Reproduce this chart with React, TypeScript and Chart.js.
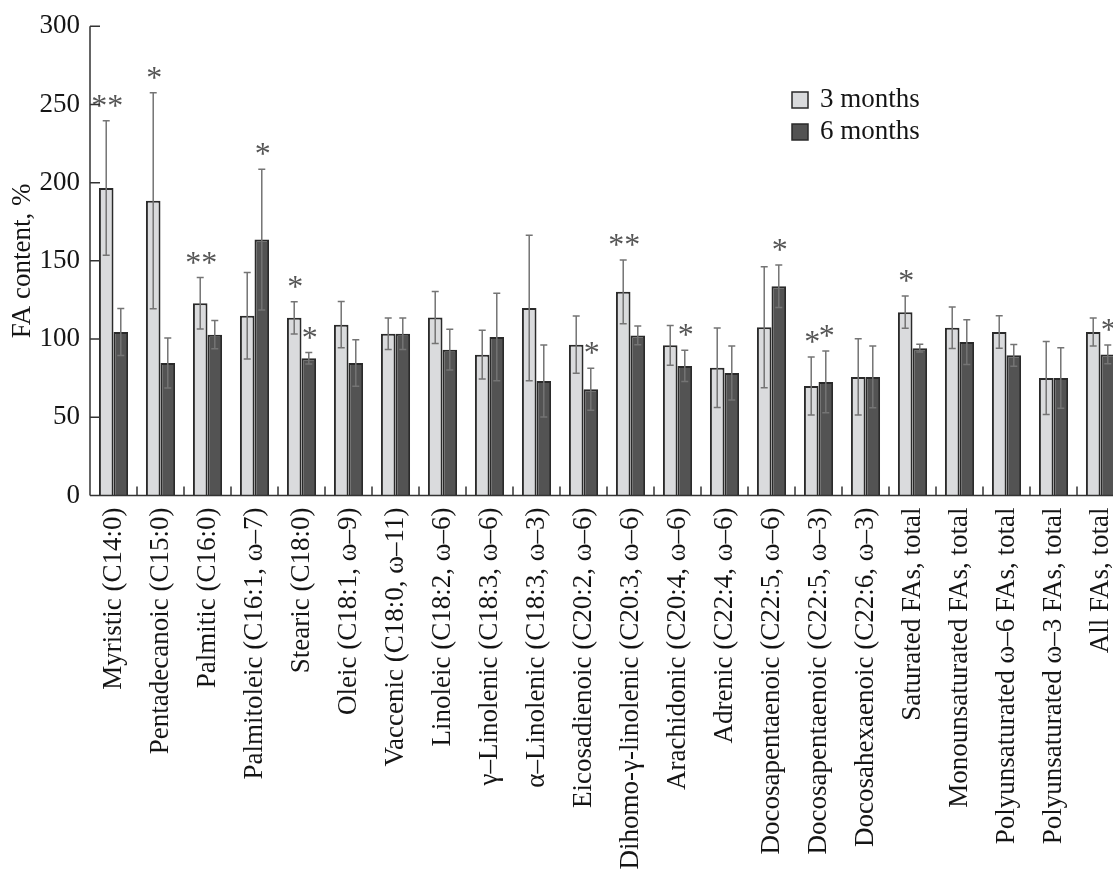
import React, { useEffect, useRef } from "react";
import { Chart, registerables } from "chart.js";

Chart.register(...registerables);

const categories: string[] = [
  "Myristic (C14:0)",
  "Pentadecanoic (C15:0)",
  "Palmitic (C16:0)",
  "Palmitoleic (C16:1, ω–7)",
  "Stearic (C18:0)",
  "Oleic (C18:1, ω–9)",
  "Vaccenic (C18:0, ω–11)",
  "Linoleic (C18:2, ω–6)",
  "γ–Linolenic (C18:3, ω–6)",
  "α–Linolenic (C18:3, ω–3)",
  "Eicosadienoic (C20:2, ω–6)",
  "Dihomo-γ-linolenic (C20:3, ω–6)",
  "Arachidonic (C20:4, ω–6)",
  "Adrenic (C22:4, ω–6)",
  "Docosapentaenoic (C22:5, ω–6)",
  "Docosapentaenoic (C22:5, ω–3)",
  "Docosahexaenoic (C22:6, ω–3)",
  "Saturated FAs, total",
  "Monounsaturated FAs, total",
  "Polyunsaturated ω–6 FAs, total",
  "Polyunsaturated ω–3 FAs, total",
  "All FAs, total",
];

const months3: number[] = [196.5, 188.4, 122.9, 114.9, 113.6, 109.2, 103.4, 113.8, 90, 119.8, 96.4, 130.2, 96, 81.7, 107.6, 70, 75.8, 117.2, 107.2, 104.5, 75.1, 104.5];
const months3Err: number[] = [43, 69, 16.4, 27.7, 10.3, 14.8, 10.1, 16.6, 15.6, 46.5, 18.3, 20.4, 12.7, 25.4, 38.7, 18.6, 24.4, 10.3, 13.3, 10.4, 23.4, 9];
const months6: number[] = [104.5, 84.7, 102.8, 163.6, 87.7, 84.7, 103.4, 93.2, 101.3, 73.2, 67.9, 102.3, 82.8, 78.3, 133.8, 72.6, 75.8, 94.2, 98.1, 89.6, 75.1, 90.2];
const months6Err: number[] = [15, 16, 9, 45, 3.7, 14.8, 10.1, 13, 28, 23, 13.4, 6, 10, 17.3, 13.6, 19.7, 19.7, 2.5, 14.3, 7, 19.3, 6];

const sig3: string[] = ["**", "*", "**", "", "*", "", "", "", "", "", "", "**", "", "", "", "*", "", "*", "", "", "", ""];
const sig6: string[] = ["", "", "", "*", "*", "", "", "", "", "", "*", "", "*", "", "*", "*", "", "", "", "", "", "*"];

const seriesNames: string[] = ["3 months", "6 months"];
const yTicks: number[] = [0, 50, 100, 150, 200, 250, 300];

const FONT = "'Liberation Serif', 'Times New Roman', serif";
const FS = 27;
const LIGHT = "#dadbdd";
const DARK = "#535353";
const EDGE = "#2a2a2a";
const TEXT = "#151515";

const overlayPlugin = {
  id: "overlay",
  afterDatasetsDraw(chart: any) {
    const ctx = chart.ctx as CanvasRenderingContext2D;
    const xs = chart.scales.x;
    const ys = chart.scales.y;
    const area = chart.chartArea;
    ctx.save();

    const series: [number[], number[], string[]][] = [
      [months3, months3Err, sig3],
      [months6, months6Err, sig6],
    ];
    series.forEach(([vals, errs, sigs], di) => {
      const meta = chart.getDatasetMeta(di);
      meta.data.forEach((bar: any, i: number) => {
        const cx = bar.x;
        const top = ys.getPixelForValue(vals[i] + errs[i]);
        const bot = ys.getPixelForValue(vals[i] - errs[i]);
        ctx.strokeStyle = "#747474";
        ctx.lineWidth = 1.5;
        ctx.beginPath();
        ctx.moveTo(cx, top);
        ctx.lineTo(cx, bot);
        ctx.moveTo(cx - 3.5, top);
        ctx.lineTo(cx + 3.5, top);
        ctx.moveTo(cx - 3.5, bot);
        ctx.lineTo(cx + 3.5, bot);
        ctx.stroke();
        const s = sigs[i];
        if (s) {
          ctx.font = `32px ${FONT}`;
          ctx.fillStyle = "#555555";
          ctx.textAlign = "center";
          ctx.textBaseline = "alphabetic";
          const m = ctx.measureText("*");
          const asc = m.actualBoundingBoxAscent;
          const desc = m.actualBoundingBoxDescent;
          const centerY = top - 20;
          const n = s.length;
          for (let k = 0; k < n; k++) {
            const sx = cx + 1 + (k - (n - 1) / 2) * 16;
            ctx.fillText("*", sx, centerY + (asc - desc) / 2);
          }
        }
      });
    });

    // axes
    ctx.strokeStyle = "#333333";
    ctx.lineWidth = 1.5;
    ctx.beginPath();
    ctx.moveTo(area.left, ys.getPixelForValue(300));
    ctx.lineTo(area.left, area.bottom);
    ctx.moveTo(area.left, area.bottom);
    ctx.lineTo(chart.width, area.bottom);
    yTicks.forEach((t) => {
      const py = ys.getPixelForValue(t);
      ctx.moveTo(area.left, py);
      ctx.lineTo(area.left + 10, py);
    });
    for (let k = 1; k < categories.length; k++) {
      const px = (xs.getPixelForValue(k - 1) + xs.getPixelForValue(k)) / 2;
      ctx.moveTo(px, area.bottom);
      ctx.lineTo(px, area.bottom - 9);
    }
    ctx.stroke();

    // legend
    const lx = 792;
    const rows = [100, 132];
    const fills = [LIGHT, DARK];
    rows.forEach((ry, ri) => {
      ctx.fillStyle = fills[ri];
      ctx.fillRect(lx, ry - 8, 16, 16);
      ctx.strokeStyle = EDGE;
      ctx.lineWidth = 1.5;
      ctx.strokeRect(lx, ry - 8, 16, 16);
      ctx.fillStyle = TEXT;
      ctx.font = `${FS}px ${FONT}`;
      ctx.textAlign = "left";
      ctx.textBaseline = "middle";
      ctx.fillText(seriesNames[ri], lx + 28, ry);
    });

    ctx.restore();
  },
};

export default function App() {
  const ref = useRef<HTMLCanvasElement | null>(null);
  useEffect(() => {
    if (!ref.current) return;
    const chart = new Chart(ref.current, {
      type: "bar",
      data: {
        labels: categories,
        datasets: [
          {
            label: seriesNames[0],
            data: months3,
            backgroundColor: LIGHT,
            borderColor: EDGE,
            borderWidth: 2,
            categoryPercentage: 0.62,
            barPercentage: 1,
          },
          {
            label: seriesNames[1],
            data: months6,
            backgroundColor: DARK,
            borderColor: EDGE,
            borderWidth: 2,
            categoryPercentage: 0.62,
            barPercentage: 1,
          },
        ],
      },
      options: {
        responsive: false,
        animation: false,
        devicePixelRatio: 1,
        layout: { padding: { left: 0, top: 25, right: 26, bottom: 0 } },
        plugins: {
          legend: { display: false },
          tooltip: { enabled: false },
        },
        scales: {
          x: {
            offset: true,
            grid: { display: false, drawTicks: false },
            border: { display: false },
            ticks: {
              autoSkip: false,
              maxRotation: 90,
              minRotation: 90,
              padding: 12,
              color: TEXT,
              font: { family: FONT, size: FS },
            },
            afterFit: (scale: any) => {
              scale.height = 375.5;
            },
          },
          y: {
            min: 0,
            max: 300,
            grid: { display: false, drawTicks: false },
            border: { display: false },
            ticks: {
              stepSize: 50,
              padding: 10,
              color: TEXT,
              font: { family: FONT, size: FS },
            },
            title: {
              display: true,
              text: "FA content, %",
              color: TEXT,
              font: { family: FONT, size: FS },
              padding: { top: 7, bottom: 0 },
            },
            afterFit: (scale: any) => {
              scale.width = 90;
            },
          },
        },
      },
      plugins: [overlayPlugin],
    });
    return () => chart.destroy();
  }, []);

  return (
    <div
      style={{
        position: "absolute",
        left: 0,
        top: 0,
        width: 1113,
        height: 871,
        overflow: "hidden",
        background: "#ffffff",
      }}
    >
      <canvas ref={ref} width={1150} height={871} style={{ width: 1150, height: 871, display: "block" }} />
    </div>
  );
}
